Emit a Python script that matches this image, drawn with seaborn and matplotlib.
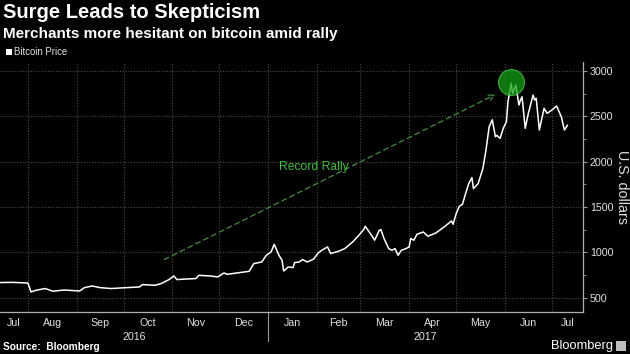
import pandas as pd
import seaborn as sns
import matplotlib.pyplot as plt
import matplotlib.dates as mdates

# Bitcoin price (USD)
dates = [
    "2016-07-14", "2016-07-22", "2016-07-31", "2016-08-01", "2016-08-03",
    "2016-08-06", "2016-08-12", "2016-08-17", "2016-08-24", "2016-09-03",
    "2016-09-06", "2016-09-11", "2016-09-16", "2016-09-23", "2016-10-03",
    "2016-10-11", "2016-10-13", "2016-10-21", "2016-10-25", "2016-10-30",
    "2016-11-02", "2016-11-04", "2016-11-10", "2016-11-16", "2016-11-18",
    "2016-11-25", "2016-11-30", "2016-12-04", "2016-12-06", "2016-12-14",
    "2016-12-20", "2016-12-23", "2016-12-28", "2016-12-31", "2017-01-03",
    "2017-01-05", "2017-01-08", "2017-01-10", "2017-01-11", "2017-01-14",
    "2017-01-17", "2017-01-18", "2017-01-21", "2017-01-23", "2017-01-26",
    "2017-01-30", "2017-02-02", "2017-02-05", "2017-02-08", "2017-02-10",
    "2017-02-15", "2017-02-19", "2017-02-24", "2017-02-28", "2017-03-03",
    "2017-03-04", "2017-03-08", "2017-03-10", "2017-03-13", "2017-03-14",
    "2017-03-16", "2017-03-19", "2017-03-21", "2017-03-23", "2017-03-25",
    "2017-03-27", "2017-03-30", "2017-04-01", "2017-04-02", "2017-04-04",
    "2017-04-06", "2017-04-10", "2017-04-13", "2017-04-18", "2017-04-22",
    "2017-04-26", "2017-04-28", "2017-04-29", "2017-05-01", "2017-05-03",
    "2017-05-05", "2017-05-07", "2017-05-09", "2017-05-11", "2017-05-12",
    "2017-05-15", "2017-05-18", "2017-05-20", "2017-05-22", "2017-05-24",
    "2017-05-26", "2017-05-27", "2017-05-29", "2017-05-31", "2017-06-02",
    "2017-06-03", "2017-06-05", "2017-06-06", "2017-06-08", "2017-06-09",
    "2017-06-10", "2017-06-11", "2017-06-12", "2017-06-14", "2017-06-16",
    "2017-06-19", "2017-06-20", "2017-06-21", "2017-06-23", "2017-06-26",
    "2017-06-28", "2017-07-01", "2017-07-04", "2017-07-07", "2017-07-09",
    "2017-07-11",
]
prices = [
    666, 668, 662, 660, 562,
    580, 600, 570, 584, 573,
    610, 628, 610, 600, 610,
    617, 643, 636, 655, 699,
    739, 699, 705, 710, 746,
    739, 728, 772, 757, 776,
    790, 875, 893, 967, 1003,
    1088, 967, 912, 794, 838,
    831, 886, 893, 920, 893,
    923, 992, 1030, 1059, 986,
    1011, 1041, 1114, 1188, 1250,
    1287, 1188, 1133, 1243, 1250,
    1152, 1041, 1022, 1041, 967,
    1022, 1041, 1059, 1152, 1133,
    1199, 1224, 1177, 1213, 1262,
    1317, 1346, 1309, 1427, 1508,
    1530, 1648, 1758, 1825, 1703,
    1758, 1924, 2128, 2385, 2462,
    2275, 2290, 2257, 2368, 2441,
    2661, 2864, 2754, 2846, 2735,
    2625, 2680, 2716, 2368, 2533,
    2735, 2680, 2699, 2349, 2588,
    2533, 2570, 2614, 2496, 2349,
    2404,
]
month_labels = ["Jul", "Aug", "Sep", "Oct", "Nov", "Dec", "Jan",
                "Feb", "Mar", "Apr", "May", "Jun", "Jul"]
year_labels = ["2016", "2017"]
y_ticks = [500, 1000, 1500, 2000, 2500, 3000]

df = pd.DataFrame({"date": pd.to_datetime(dates), "price": prices})

sns.set_style("dark")
plt.rcParams["font.family"] = ["Liberation Sans", "DejaVu Sans"]

fig = plt.figure(figsize=(6.3, 3.54), dpi=100, facecolor="black")
ax = fig.add_axes([0, 42 / 354, 583 / 630, 250 / 354])
ax.set_facecolor("black")

sns.lineplot(data=df, x="date", y="price", ax=ax, color="white", lw=1.1)

x0 = mdates.date2num(pd.Timestamp("2016-07-14 05:00"))
x1 = mdates.date2num(pd.Timestamp("2017-07-20 20:00"))
ax.set_xlim(x0, x1)
ax.set_ylim(341, 3100)

# month boundaries: ticks + grid; labels centred in each month
starts = mdates.date2num(pd.date_range("2016-08-01", "2017-07-01", freq="MS"))
bounds = [x0] + list(starts) + [x1]
mids = [(a + b) / 2 for a, b in zip(bounds[:-1], bounds[1:])]
ax.set_xticks(starts)
ax.set_xticklabels([])
ax.set_xticks(mids, minor=True)
ax.set_xticklabels(month_labels, minor=True)
ax.tick_params(axis="x", which="major", length=3, color="#9a9a9a", direction="out")
ax.tick_params(axis="x", which="minor", length=0, pad=4, labelsize=7.7, labelcolor="#e0e0e0")

jan1 = mdates.date2num(pd.Timestamp("2017-01-01"))
year_mid = [(x0 + jan1) / 2, (jan1 + x1) / 2]
for xm, lab in zip(year_mid, year_labels):
    ax.text(xm, -0.1, lab, transform=ax.get_xaxis_transform(), ha="center",
            va="center", fontsize=7.7, color="#e0e0e0")
ax.plot([jan1, jan1], [0, -0.115], transform=ax.get_xaxis_transform(),
        color="#9a9a9a", lw=0.8, clip_on=False)

ax.yaxis.tick_right()
ax.set_yticks(y_ticks)
ax.set_yticks(range(750, 3001, 500), minor=True)
ax.tick_params(axis="y", which="major", length=3, color="#9a9a9a", pad=2,
               labelsize=7.7, labelcolor="#e0e0e0", right=True, left=False)
ax.tick_params(axis="y", which="minor", length=2, color="#9a9a9a", right=True, left=False)
ax.yaxis.set_label_position("right")
ax.set_ylabel("U.S. dollars", rotation=-90, fontsize=10.3, color="#e0e0e0", labelpad=11)
ax.set_xlabel("")

ax.grid(True, which="major", color="#4a4a4a", linestyle=(0, (1, 1.5)), lw=0.8)
for s in ["top", "left"]:
    ax.spines[s].set_visible(False)
for s in ["bottom", "right"]:
    ax.spines[s].set_color("#b0b0b0")
    ax.spines[s].set_linewidth(0.9)

# annotation: dashed arrow, label, highlight circle
ax.annotate("", xy=(mdates.date2num(pd.Timestamp("2017-05-26")), 2741),
            xytext=(mdates.date2num(pd.Timestamp("2016-10-27")), 920),
            arrowprops=dict(arrowstyle="->", color="#3f8f3f", lw=0.9,
                            linestyle=(0, (4, 3)), shrinkA=0, shrinkB=0))
ax.text(mdates.date2num(pd.Timestamp("2017-01-30")), 1942, "Record Rally",
        color="#35c435", fontsize=8.7, ha="center", va="center")
ax.scatter([mdates.date2num(pd.Timestamp("2017-06-04 16:00"))], [2874], s=350,
           color="#12a012", alpha=0.75, edgecolor="#4ccc4c", lw=0.8, zorder=5)

# titles and footer
fig.text(0.005, 0.992, "Surge Leads to Skepticism", fontsize=14.5, fontweight="bold",
         color="white", va="top")
fig.text(0.005, 0.925, "Merchants more hesitant on bitcoin amid rally", fontsize=11,
         fontweight="bold", color="white", va="top")
fig.patches.append(plt.Rectangle((0.009, 0.845), 0.010, 0.017, transform=fig.transFigure,
                                 facecolor="white", edgecolor="none"))
fig.text(0.023, 0.853, "Bitcoin Price", fontsize=6.9, color="#e0e0e0", va="center")
fig.text(0.005, 0.019, "Source:  Bloomberg", fontsize=7.3, fontweight="bold",
         color="white", va="center")
fig.text(0.973, 0.023, "Bloomberg", fontsize=9.3, color="white", va="center", ha="right")
fig.patches.append(plt.Rectangle((0.977, 0.008), 0.016, 0.03, transform=fig.transFigure,
                                 facecolor="#bdbdbd", edgecolor="none"))

fig.savefig("out.png", dpi=100, facecolor="black")
